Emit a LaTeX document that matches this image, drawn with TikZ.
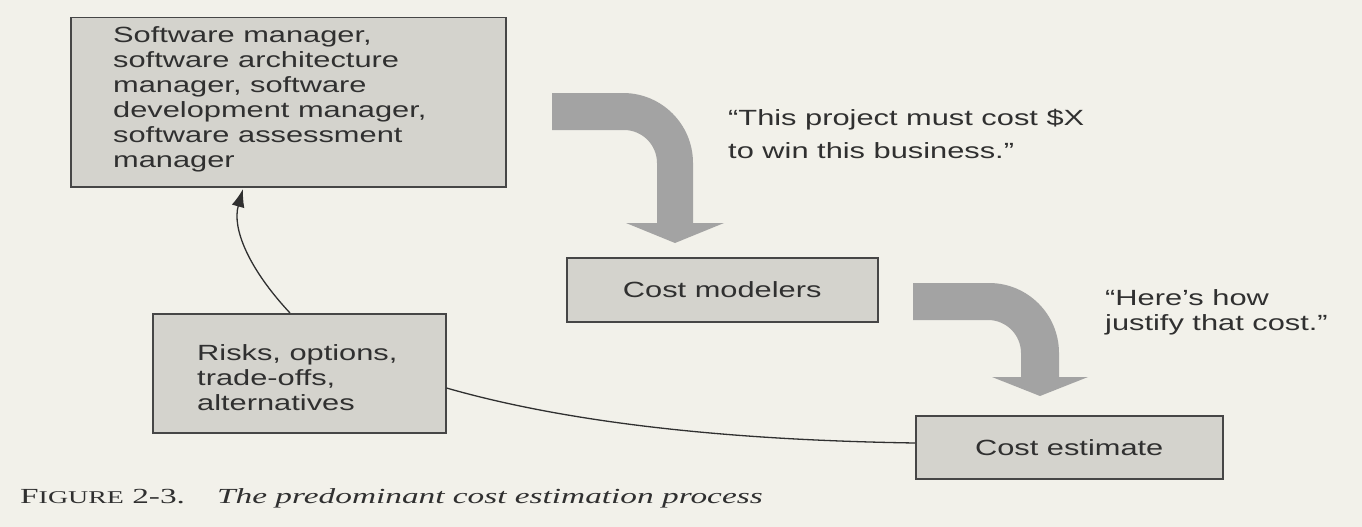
\documentclass[tikz,border=0pt]{standalone}
\usepackage{fontspec}
\usetikzlibrary{arrows.meta}
\newfontfamily\diasans[FakeStretch=1.4]{Liberation Sans}
\newfontfamily\capserif[FakeStretch=1.55]{Liberation Serif}
\definecolor{paper}{HTML}{F2F1EA}
\definecolor{boxfill}{HTML}{D4D3CD}
\definecolor{boxline}{HTML}{464646}
\definecolor{inkgray}{HTML}{303030}
\definecolor{bigarrow}{HTML}{A3A3A3}
\tikzset{
  boxnode/.style={draw=boxline, line width=1.5pt, fill=boxfill, inner sep=0pt, anchor=north west},
  boxtext/.style={text=inkgray, inner sep=0pt, align=left, font={\fontsize{22}{25}\selectfont\diasans}},
  thinlink/.style={draw=inkgray, line width=1.3pt},
  thinarrow/.style={thinlink, -{Latex[length=18pt,width=13pt]}},
  grayarrow/.style={fill=bigarrow, draw=none},
}
\begin{document}
\begin{tikzpicture}[x=1pt,y=-1pt]
\fill[paper] (0,0) rectangle (1362,527);
\useasboundingbox (0,0) rectangle (1362,527);

% boxes
\node[boxnode, minimum width=435pt, minimum height=169pt] (mgr) at (70,17) {};
\node[boxnode, minimum width=311pt, minimum height=64pt] (modelers) at (566,257) {};
\node[boxnode, minimum width=293pt, minimum height=119pt] (risks) at (152,313) {};
\node[boxnode, minimum width=307pt, minimum height=63pt] (estimate) at (915,415) {};

% box texts
\node[boxtext, anchor=north west] (mgrtext) at (113,26) {Software manager,\\software architecture\\manager, software\\development manager,\\software assessment\\manager};
\node[boxtext] (modtext) at (modelers.center) {Cost modelers};
\node[boxtext, anchor=north west] (risktext) at (197,344) {Risks, options,\\trade-offs,\\alternatives};
\node[boxtext] (esttext) at (estimate.center) {Cost estimate};

% quotes
\node[boxtext, anchor=base west] (quote1) at (728,125) {“This project must cost \$X};
\node[boxtext, anchor=base west] (quote1b) at (728,158) {to win this business.”};
\node[boxtext, anchor=base west] (quote2) at (1105,305) {“Here’s how};
\node[boxtext, anchor=base west] (quote2b) at (1105,330) {justify that cost.”};

% big grey arrows
\path[grayarrow] (552,93) -- (623,93) .. controls (661.7,93) and (693,124.3) .. (693,163)
  -- (693,223) -- (724,223) -- (675,243) -- (626,223) -- (657,223) -- (657,163)
  .. controls (657,144.8) and (642.2,130) .. (624,130) -- (552,130) -- cycle;
\path[grayarrow] (913,283) -- (989,283) .. controls (1027.7,283) and (1059,314.3) .. (1059,353)
  -- (1059,377) -- (1088,377) -- (1040,396) -- (992,377) -- (1021,377) -- (1021,353)
  .. controls (1021,334.8) and (1006.2,320) .. (988,320) -- (913,320) -- cycle;

% thin connectors
\coordinate (risktop) at (risks.north -| 290,0);
\coordinate (mgrbottom) at (243,189);
\draw[thinarrow] (risktop) .. controls (248,268) and (232,228) .. (mgrbottom);
\coordinate (riskright) at (risks.east |- 0,388);
\coordinate (estleft) at (estimate.west |- 0,443);
\draw[thinlink] (riskright) .. controls (600,432) and (790,441) .. (estleft);

% caption
\node[anchor=base west, inner sep=0pt, text=inkgray, font={\capserif}] (figlabel) at (20,503)
  {\fontsize{21.5}{24}\selectfont F\fontsize{18}{20}\selectfont IGURE\fontsize{21.5}{24}\selectfont\ 2-3.};
\node[anchor=base west, inner sep=0pt, text=inkgray, font={\fontsize{21.5}{24}\selectfont\capserif\itshape}] (figtitle) at (217,503)
  {The predominant cost estimation process};
\end{tikzpicture}
\end{document}
